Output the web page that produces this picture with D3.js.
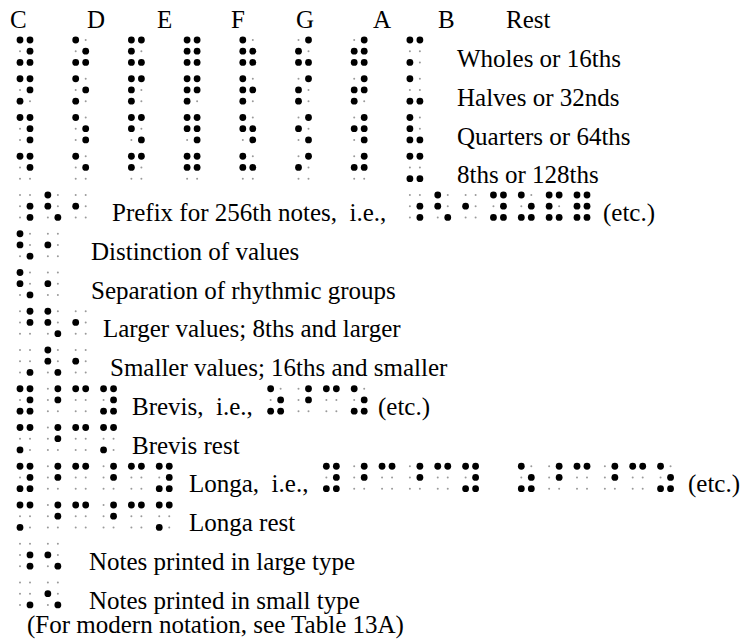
<!DOCTYPE html>
<html>
<head>
<meta charset="utf-8">
<script src="https://cdn.jsdelivr.net/npm/d3@7"></script>
<style>
  html, body { margin: 0; padding: 0; background: #fff; }
  svg text { white-space: pre; }
</style>
</head>
<body>
<svg id="chart" width="744" height="643"></svg>
<script>
// ---- data ----
const noteNames = ["C", "D", "E", "F", "G", "A", "B", "Rest"];
const valueNames = ["Wholes or 16ths", "Halves or 32nds", "Quarters or 64ths", "8ths or 128ths"];
const valueCells = ["⠽⠵⠯⠿⠷⠮⠾⠍", "⠝⠕⠏⠟⠗⠎⠞⠥", "⠹⠱⠫⠻⠳⠪⠺⠧", "⠙⠑⠋⠛⠓⠊⠚⠭"];
const signCells = ["⠰⠣⠂", "⠣⠂", "⠣⠂", "⠘⠣⠂", "⠠⠣⠂", "⠽⠘⠉⠽", "⠍⠘⠉⠍", "⠽⠘⠉⠘⠉⠽", "⠍⠘⠉⠘⠉⠍", "⠰⠢", "⠠⠢"];
const signLabels = ["Prefix for 256th notes,  i.e.,", "Distinction of values", "Separation of rhythmic groups",
  "Larger values; 8ths and larger", "Smaller values; 16ths and smaller", "Brevis,  i.e.,", "Brevis rest",
  "Longa,  i.e.,", "Longa rest", "Notes printed in large type", "Notes printed in small type"];
const exampleCells = ["⠰⠣⠂⠽⠵⠯⠿", "⠵⠘⠉⠵", "⠽⠘⠉⠘⠉⠽", "⠵⠘⠉⠘⠉⠵"];
const etcLabel = "(etc.)";
const footnote = "(For modern notation, see Table 13A)";

// ---- layout (positions kept apart from data) ----
const W = 744, H = 643;
const FONT = "'Liberation Serif', 'Times New Roman', Times, 'DejaVu Serif', serif";
const headerX = [10, 87, 157, 231, 296, 373, 438, 506];
const headerBaseline = 28;
const valueLabelX = 457;
const signLabelX = [112, 91, 91, 103, 110, 132, 132, 189, 189, 89, 89];
const exampleLayout = [
  { line: 4, start: 14, etcX: 603 },
  { line: 9, start: 9, etcX: 378 },
  { line: 11, start: 11, etcX: null },
  { line: 11, start: 18, etcX: 688 }
];

const svg = d3.select("#chart");
svg.append("rect").attr("width", W).attr("height", H).attr("fill", "#fff");

const xCell = d3.scaleLinear().domain([0, 1]).range([20, 47.85]);
const yLine = d3.scaleLinear().domain([0, 1]).range([40, 78.75]);
const dotCol = d3.scaleLinear().domain([0, 1]).range([0, 10]);
const dotRow = d3.scaleLinear().domain([0, 2]).range([0, 22.4]);

function dotsOf(ch) {
  const bits = ch.codePointAt(0) - 0x2800;
  const out = [];
  for (let i = 0; i < 6; i++) out.push({ col: i < 3 ? 0 : 1, row: i % 3, on: (bits >> i) & 1 });
  return out;
}

const gDots = svg.append("g");
function drawCell(ch, cellIndex, lineIndex) {
  const x0 = xCell(cellIndex), y0 = yLine(lineIndex);
  gDots.append("g").selectAll("circle").data(dotsOf(ch)).join("circle")
    .attr("cx", d => x0 + dotCol(d.col))
    .attr("cy", d => y0 + dotRow(d.row))
    .attr("r", d => d.on ? 3.4 : 1.0)
    .attr("fill", d => d.on ? "#000" : "#9a9a9a");
}
function drawString(str, startCell, lineIndex, step) {
  Array.from(str).forEach((ch, i) => drawCell(ch, startCell + i * step, lineIndex));
}
function styleText(sel) {
  return sel.attr("font-family", FONT).attr("font-size", 25).attr("fill", "#000");
}

styleText(svg.append("g").selectAll("text").data(noteNames).join("text"))
  .attr("x", (d, i) => headerX[i]).attr("y", headerBaseline).text(d => d);

valueCells.forEach((row, r) => drawString(row, 0, r, 2));
styleText(svg.append("g").selectAll("text").data(valueNames).join("text"))
  .attr("x", valueLabelX).attr("y", (d, i) => yLine(i) + 27).text(d => d);

signCells.forEach((s, i) => drawString(s, 0, i + 4, 1));
styleText(svg.append("g").selectAll("text").data(signLabels).join("text"))
  .attr("x", (d, i) => signLabelX[i]).attr("y", (d, i) => yLine(i + 4) + 26).text(d => d);

exampleCells.forEach((s, i) => {
  const L = exampleLayout[i];
  drawString(s, L.start, L.line, 1);
  if (L.etcX !== null) {
    styleText(svg.append("text")).attr("x", L.etcX).attr("y", yLine(L.line) + 26).text(etcLabel);
  }
});

styleText(svg.append("text")).attr("x", 27).attr("y", 633).text(footnote);
</script>
</body>
</html>
